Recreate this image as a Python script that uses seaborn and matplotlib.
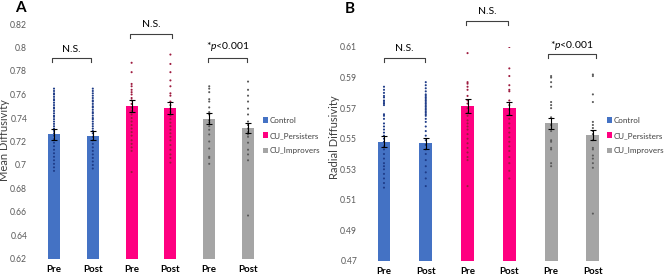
import matplotlib
matplotlib.use("Agg")
import matplotlib.pyplot as plt
from matplotlib.patches import Patch
import seaborn as sns
import pandas as pd
import numpy as np

# Bar labels and groups
bar_ids = ["ctrl_pre", "ctrl_post", "pers_pre", "pers_post", "imp_pre", "imp_post"]
tick_labels = ["Pre", "Post", "Pre", "Post", "Pre", "Post"]
groups = ["Control", "Control", "CU_Persisters", "CU_Persisters", "CU_Improvers", "CU_Improvers"]

# Panel A - Mean Diffusivity
md_means = [0.726, 0.725, 0.750, 0.7485, 0.7394, 0.7315]
md_errs = [0.0045, 0.004, 0.005, 0.0055, 0.0045, 0.0045]
md_ctrl_pre = [0.765, 0.763, 0.761, 0.760, 0.758, 0.756, 0.755, 0.753, 0.751, 0.749, 0.748, 0.746,
               0.744, 0.742, 0.741, 0.739, 0.737, 0.735, 0.733, 0.731, 0.729, 0.727, 0.725, 0.722,
               0.719, 0.716, 0.713, 0.710, 0.707, 0.704, 0.701, 0.698, 0.695]
md_ctrl_post = [0.765, 0.763, 0.761, 0.759, 0.757, 0.755, 0.754, 0.752, 0.750, 0.749, 0.747, 0.745,
                0.744, 0.742, 0.740, 0.739, 0.737, 0.735, 0.733, 0.731, 0.729, 0.727, 0.724, 0.721,
                0.718, 0.715, 0.712, 0.709, 0.706, 0.703, 0.700, 0.697]
md_pers_pre = [0.787, 0.779, 0.769, 0.767, 0.764, 0.762, 0.760, 0.757, 0.755, 0.752, 0.749, 0.746,
               0.743, 0.740, 0.737, 0.734, 0.731, 0.728, 0.725, 0.721, 0.718, 0.715, 0.712, 0.694]
md_pers_post = [0.794, 0.786, 0.779, 0.772, 0.767, 0.761, 0.759, 0.754, 0.751, 0.748, 0.745, 0.742,
                0.739, 0.736, 0.733, 0.730, 0.727, 0.724, 0.721, 0.717, 0.713, 0.709, 0.706, 0.702]
md_imp_pre = [0.767, 0.765, 0.762, 0.756, 0.754, 0.749, 0.745, 0.743, 0.738, 0.736, 0.733, 0.730,
              0.726, 0.720, 0.714, 0.707, 0.706, 0.701]
md_imp_post = [0.771, 0.764, 0.759, 0.754, 0.748, 0.743, 0.737, 0.734, 0.731, 0.728, 0.726, 0.724,
               0.719, 0.713, 0.709, 0.704, 0.657]

# Panel B - Radial Diffusivity
rd_means = [0.548, 0.547, 0.5715, 0.5698, 0.560, 0.5525]
rd_errs = [0.0035, 0.0035, 0.0045, 0.0045, 0.0035, 0.0035]
rd_ctrl_pre = [0.584, 0.582, 0.580, 0.578, 0.577, 0.575, 0.574, 0.573, 0.572, 0.566, 0.565, 0.563,
               0.560, 0.558, 0.556, 0.554, 0.552, 0.550, 0.548, 0.545, 0.543, 0.540, 0.537, 0.534,
               0.532, 0.530, 0.527, 0.524, 0.521, 0.518]
rd_ctrl_post = [0.587, 0.585, 0.583, 0.581, 0.579, 0.578, 0.577, 0.576, 0.575, 0.574, 0.573, 0.572,
                0.571, 0.570, 0.569, 0.568, 0.567, 0.566, 0.565, 0.563, 0.561, 0.558, 0.555, 0.552,
                0.549, 0.546, 0.543, 0.540, 0.536, 0.532, 0.528, 0.524, 0.519]
rd_pers_pre = [0.606, 0.587, 0.586, 0.584, 0.582, 0.578, 0.575, 0.573, 0.570, 0.567, 0.565, 0.562,
               0.560, 0.558, 0.556, 0.553, 0.550, 0.547, 0.544, 0.541, 0.538, 0.536, 0.519]
rd_pers_post = [0.613, 0.610, 0.596, 0.591, 0.585, 0.582, 0.581, 0.575, 0.572, 0.569, 0.566, 0.563,
                0.560, 0.557, 0.554, 0.551, 0.548, 0.545, 0.542, 0.538, 0.534, 0.529, 0.524]
rd_imp_pre = [0.591, 0.590, 0.587, 0.584, 0.574, 0.572, 0.570, 0.564, 0.559, 0.555, 0.549, 0.548,
              0.544, 0.543, 0.534, 0.532]
rd_imp_post = [0.592, 0.591, 0.579, 0.574, 0.561, 0.559, 0.557, 0.555, 0.553, 0.549, 0.544, 0.543,
               0.539, 0.537, 0.534, 0.531, 0.501]

bar_colors = {"Control": "#4472C4", "CU_Persisters": "#FF0080", "CU_Improvers": "#A5A5A5"}
dot_colors = {"Control": "#1F3C88", "CU_Persisters": "#9E1B3F", "CU_Improvers": "#5A5A5A"}

plt.rcParams["font.family"] = ["Lato", "DejaVu Sans"]
plt.rcParams["mathtext.fontset"] = "custom"
plt.rcParams["mathtext.it"] = "Lato:italic"
plt.rcParams["mathtext.rm"] = "Lato"

fig = plt.figure(figsize=(6.67, 2.75), dpi=100)


def draw_panel(ax, means, errs, points, ylim, yticks, brackets, tick_drop):
    bars_df = pd.DataFrame({"bar": bar_ids, "mean": means, "group": groups})
    pts_df = pd.DataFrame([(b, g, v) for b, g, vals in zip(bar_ids, groups, points) for v in vals],
                          columns=["bar", "group", "value"])

    sns.barplot(data=bars_df, x="bar", y="mean", hue="group", palette=bar_colors,
                order=bar_ids, dodge=False, width=0.31, errorbar=None, legend=False,
                saturation=1, ax=ax, zorder=1)
    sns.stripplot(data=pts_df, x="bar", y="value", hue="group", palette=dot_colors,
                  order=bar_ids, jitter=False, size=1.5, linewidth=0, legend=False,
                  ax=ax, zorder=3)
    ax.errorbar(np.arange(len(bar_ids)), means, yerr=errs, fmt="none", ecolor="black",
                elinewidth=0.8, capsize=2, capthick=0.8, zorder=4)

    ax.set_ylim(*ylim)
    ax.set_yticks(yticks)
    ax.set_yticklabels([f"{t:g}" for t in yticks])
    ax.tick_params(axis="y", length=0, labelsize=6.2, labelcolor="#595959", pad=3.5)
    ax.set_xticks(np.arange(len(bar_ids)), labels=tick_labels)
    ax.tick_params(axis="x", length=0, labelsize=7, pad=4)
    for lab in ax.get_xticklabels():
        lab.set_fontweight("bold")
    ax.set_xlabel("")
    ax.set_ylabel("")
    sns.despine(ax=ax, left=True, bottom=True)

    # Significance brackets
    for x0, x1, yb, yt, txt in brackets:
        ax.plot([x0, x0, x1, x1], [yb - tick_drop, yb, yb, yb - tick_drop],
                color="#404040", linewidth=0.8, clip_on=False)
        ax.text((x0 + x1) / 2, yt, txt, ha="center", va="center", fontsize=7.5, clip_on=False)


# Panel A
axA = fig.add_axes([32 / 667, 16 / 275, 230 / 667, 235 / 275])
draw_panel(axA, md_means, md_errs,
           [md_ctrl_pre, md_ctrl_post, md_pers_pre, md_pers_post, md_imp_pre, md_imp_post],
           (0.62, 0.82), np.round(np.arange(0.62, 0.8201, 0.02), 2),
           [(-0.05, 0.95, 0.791, 0.798, "N.S."),
            (1.97, 3.03, 0.8115, 0.8195, "N.S."),
            (3.97, 4.97, 0.791, 0.8005, "*$p$<0.001")],
           0.0035)
axA.set_xlim(-0.567, 5.36)

# Panel B
axB = fig.add_axes([362 / 667, 14 / 275, 243 / 667, 214 / 275])
draw_panel(axB, rd_means, rd_errs,
           [rd_ctrl_pre, rd_ctrl_post, rd_pers_pre, rd_pers_post, rd_imp_pre, rd_imp_post],
           (0.47, 0.61), np.round(np.arange(0.47, 0.6101, 0.02), 2),
           [(0.0, 0.98, 0.6028, 0.6087, "N.S."),
            (1.96, 2.97, 0.627, 0.633, "N.S."),
            (3.92, 5.07, 0.6054, 0.6113, "*$p$<0.001")],
           0.0027)
axB.set_xlim(-0.526, 5.29)

# Y labels
fig.text(5 / 667, 1 - 140 / 275, "Mean Diffusivity", rotation=90, fontsize=8,
         color="#404040", ha="center", va="center")
fig.text(334 / 667, 1 - 137 / 275, "Radial Diffusivity", rotation=90, fontsize=8,
         color="#404040", ha="center", va="center")

# Panel letters
fig.text(20 / 667, 1 - 8 / 275, "A", fontsize=11, fontweight="bold", va="center", ha="center")
fig.text(350 / 667, 1 - 9 / 275, "B", fontsize=11, fontweight="bold", va="center", ha="center")

# Legends
handles = [Patch(facecolor=bar_colors[g], label=g) for g in ["Control", "CU_Persisters", "CU_Improvers"]]
for xpix in (258, 602):
    fig.legend(handles=handles, loc="upper left", bbox_to_anchor=(xpix / 667, 1 - 112 / 275),
               frameon=False, fontsize=5.8, handlelength=0.6, handleheight=0.6,
               handletextpad=0.3, labelspacing=1.0, labelcolor="#404040",
               borderaxespad=0.2)

fig.savefig("out.png", dpi=100)
